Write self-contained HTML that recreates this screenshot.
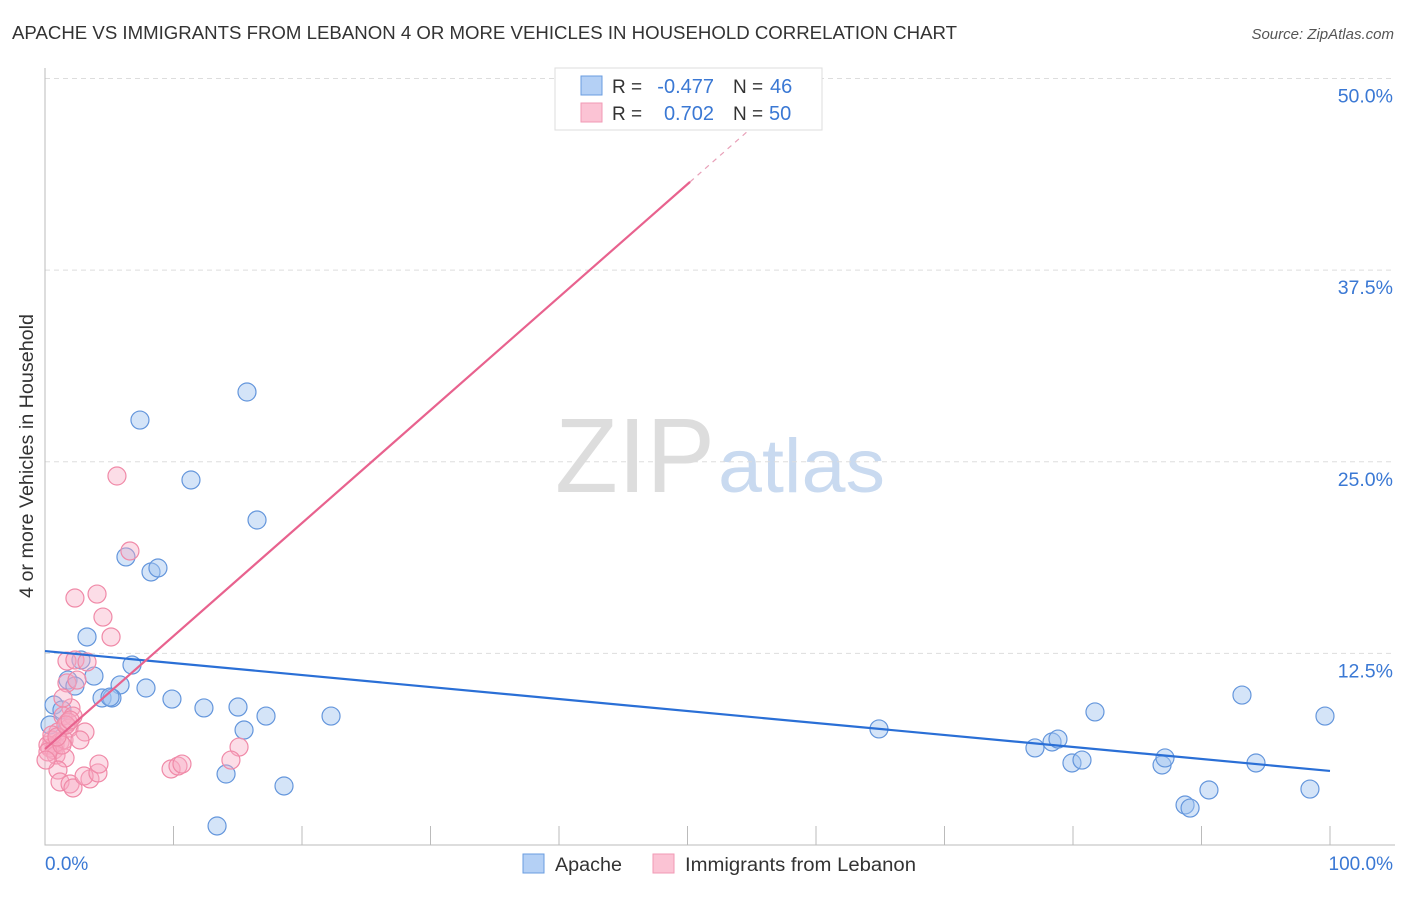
<!DOCTYPE html>
<html><head><meta charset="utf-8"><style>
body{margin:0;background:#fff;font-family:"Liberation Sans",sans-serif}
svg text{font-family:"Liberation Sans",sans-serif}
</style></head><body>
<svg id="c" width="1406" height="892" xmlns="http://www.w3.org/2000/svg">
<text x="12" y="39" font-size="18" fill="#333" textLength="945" lengthAdjust="spacingAndGlyphs">APACHE VS IMMIGRANTS FROM LEBANON 4 OR MORE VEHICLES IN HOUSEHOLD CORRELATION CHART</text>
<text x="1394" y="39" font-size="15" fill="#555" font-style="italic" text-anchor="end">Source: ZipAtlas.com</text>
<text x="555" y="492" font-size="106" fill="#ddd" font-family="Liberation Serif, serif" textLength="160" lengthAdjust="spacingAndGlyphs">ZIP</text>
<text x="718" y="492" font-size="76" fill="#c9daf0" textLength="167" lengthAdjust="spacingAndGlyphs">atlas</text>
<g id="grid"></g><g id="marks"></g>
<text x="33" y="456" font-size="19" fill="#333" text-anchor="middle" transform="rotate(-90 33 456)" textLength="284" lengthAdjust="spacingAndGlyphs">4 or more Vehicles in Household</text>
<text x="45" y="870" font-size="19" fill="#3a78d4">0.0%</text>
<text x="1393" y="870" font-size="19" fill="#3a78d4" text-anchor="end">100.0%</text>
<g>
<rect x="555" y="68" width="267" height="62" fill="#fff" stroke="#ddd"/>
<rect x="581" y="76" width="21" height="19" fill="#b4d0f5" stroke="#6a9ce0"/>
<rect x="581" y="103" width="21" height="19" fill="#fbc3d4" stroke="#f19ab5"/>
<text x="612" y="93" font-size="19" fill="#333">R =</text>
<text x="714" y="93" font-size="20" fill="#3a78d4" text-anchor="end">-0.477</text>
<text x="733" y="93" font-size="19" fill="#333">N =</text>
<text x="770" y="93" font-size="20" fill="#3a78d4">46</text>
<text x="612" y="120" font-size="19" fill="#333">R =</text>
<text x="714" y="120" font-size="20" fill="#3a78d4" text-anchor="end">0.702</text>
<text x="733" y="120" font-size="19" fill="#333">N =</text>
<text x="769" y="120" font-size="20" fill="#3a78d4">50</text>
</g>
<g>
<rect x="523" y="854" width="21" height="19" fill="#b4d0f5" stroke="#6a9ce0"/>
<text x="555" y="871" font-size="19" fill="#333" textLength="67" lengthAdjust="spacingAndGlyphs">Apache</text>
<rect x="653" y="854" width="21" height="19" fill="#fbc3d4" stroke="#f19ab5"/>
<text x="685" y="871" font-size="19" fill="#333" textLength="231" lengthAdjust="spacingAndGlyphs">Immigrants from Lebanon</text>
</g>
</svg>
<script>
const yTicks=[12.5,25,37.5,50];
const yTickLabels=["12.5%","25.0%","37.5%","50.0%"];
const apacheX=[7.39,15.72,11.36,16.5,6.3,8.25,8.79,3.27,2.8,6.77,3.81,1.79,2.33,5.84,7.86,4.44,5.21,0.7,1.32,9.88,12.37,15.02,17.2,22.26,15.49,0.39,14.09,18.6,13.39,64.9,81.71,93.15,99.61,77.04,78.37,78.83,79.92,80.7,86.93,87.16,94.24,88.72,89.11,90.58,98.44,5.06];
const apacheY=[27.72,29.55,23.81,21.2,18.79,17.81,18.07,13.57,12.07,11.74,11.02,10.76,10.37,10.44,10.24,9.59,9.59,9.13,8.81,9.52,8.94,9.0,8.41,8.41,7.5,7.83,4.63,3.85,1.24,7.57,8.68,9.78,8.41,6.33,6.72,6.91,5.35,5.54,5.22,5.68,5.35,2.61,2.41,3.59,3.65,9.65];
const lebX=[5.6,6.61,2.33,4.05,4.51,5.14,1.71,2.33,3.27,1.71,2.49,2.02,1.4,2.18,1.87,3.11,1.01,0.54,0.78,1.17,1.48,0.39,0.23,0.7,0.86,1.56,1.01,1.17,1.95,2.18,3.5,3.04,4.12,4.2,9.81,10.35,10.66,15.1,14.47,42.41,1.4,1.79,2.72,0.54,0.23,1.32,0.93,1.63,1.95,0.08];
const lebY=[24.07,19.18,16.11,16.37,14.87,13.57,12.0,12.07,11.94,10.57,10.76,8.94,8.41,8.41,7.63,7.37,7.37,6.85,6.52,6.72,6.85,6.33,6.52,6.2,5.87,5.68,4.89,4.11,3.98,3.72,4.31,4.5,4.7,5.28,4.96,5.15,5.28,6.39,5.54,47.42,9.59,8.02,6.85,7.18,6.07,6.52,7.05,7.83,8.15,5.54];
const apacheTrend=[12.65,4.83];
const lebTrend=[6.26,0.737];
const NS="http://www.w3.org/2000/svg";
const X=v=>45+v*12.85, Y=v=>845-v*15.33;
function mk(t,a,p){const e=document.createElementNS(NS,t);for(const k in a)e.setAttribute(k,a[k]);p.appendChild(e);return e;}
const grid=document.getElementById('grid'), marks=document.getElementById('marks');
yTicks.forEach((t,i)=>{
 const l=mk('line',{x1:45,x2:1395,y1:Y(t),y2:Y(t),stroke:'#ddd','stroke-dasharray':'5,4'},grid);
 
 
 const tx=mk('text',{x:1393,y:Y(t)+24,'font-size':19.5,fill:'#3a78d4','text-anchor':'end'},grid);tx.textContent=yTickLabels[i];
 
 
});
const ax=mk('path',{d:'M45 68V845H1395',stroke:'#bbb',fill:'none'},grid);


for(let i=1;i<=10;i++){const t=mk('line',{x1:X(i*10),x2:X(i*10),y1:826,y2:845,stroke:'#bbb'},grid);
 
 }
apacheX.forEach((x,i)=>{const c=mk('circle',{cx:X(x),cy:Y(apacheY[i]),r:9,fill:'rgba(160,196,240,0.45)',stroke:'#6496dc','stroke-width':1.2},marks);
 
 });
lebX.forEach((x,i)=>{const c=mk('circle',{cx:X(x),cy:Y(lebY[i]),r:9,fill:'rgba(248,170,195,0.4)',stroke:'#f08aa8','stroke-width':1.2},marks);
 
 });
const bl=mk('line',{x1:X(0),y1:Y(apacheTrend[0]),x2:X(100),y2:Y(apacheTrend[1]),stroke:'#2a6fd6','stroke-width':2.2},marks);


const xe=50.2,xd=55;
const pl=mk('line',{x1:X(0),y1:Y(lebTrend[0]),x2:X(xe),y2:Y(lebTrend[0]+lebTrend[1]*xe),stroke:'#e8628e','stroke-width':2.2},marks);


const pd=mk('line',{x1:X(xe),y1:Y(lebTrend[0]+lebTrend[1]*xe),x2:X(xd),y2:Y(lebTrend[0]+lebTrend[1]*xd),stroke:'#e8a0b8','stroke-width':1.2,'stroke-dasharray':'5,5'},marks);


</script>
</body></html>
